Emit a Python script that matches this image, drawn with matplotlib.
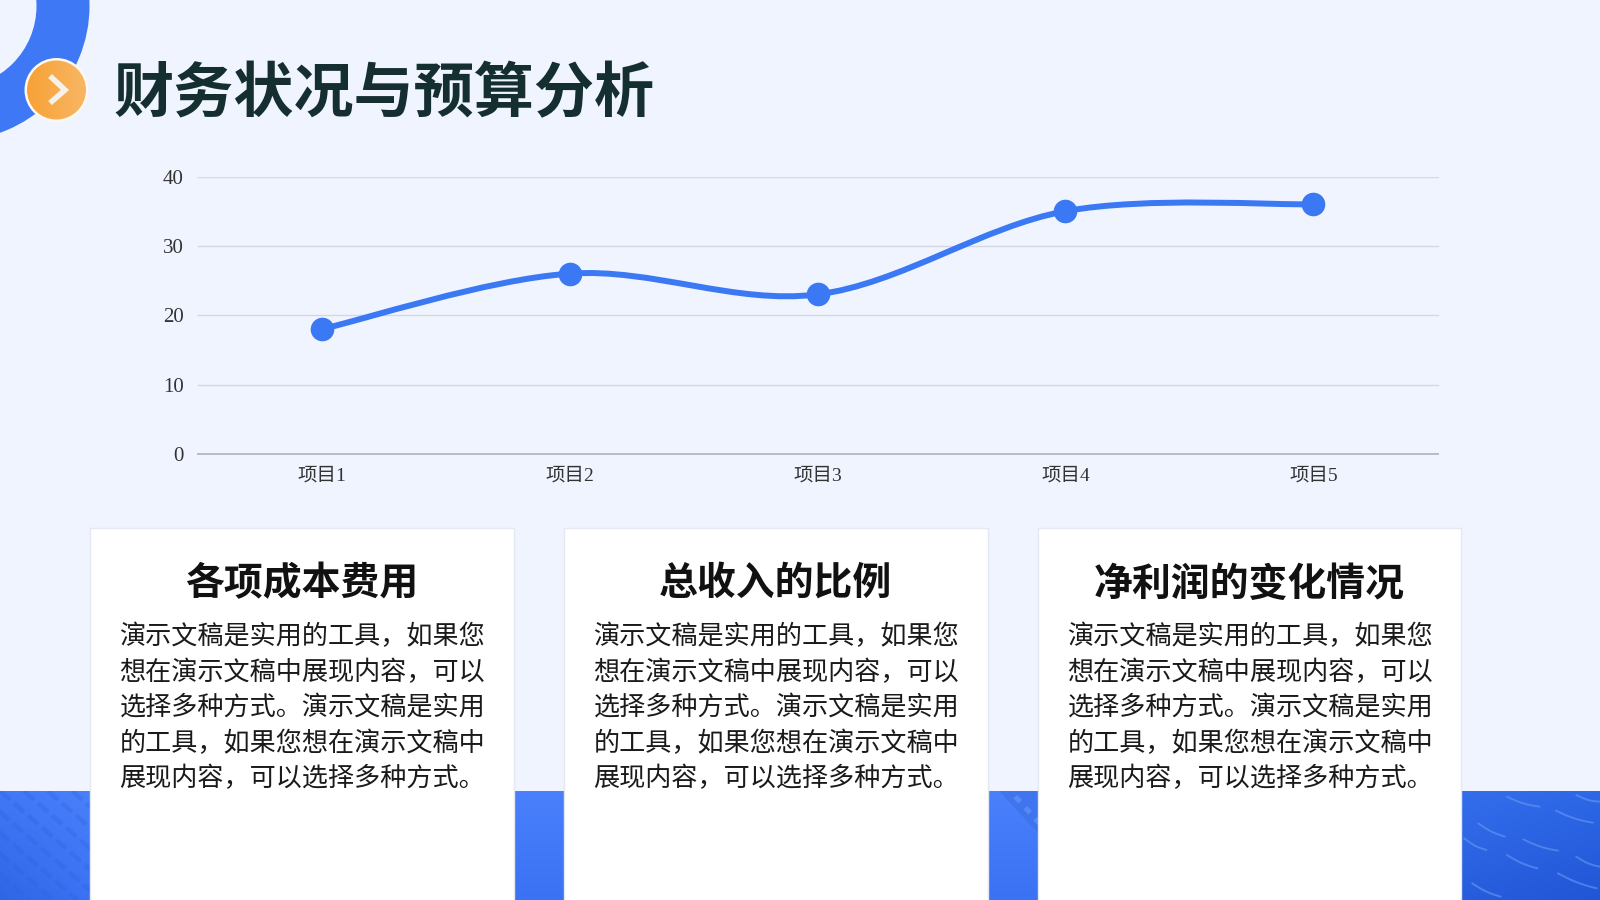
import numpy as np
import matplotlib
matplotlib.use('Agg')
import matplotlib.pyplot as plt
from matplotlib.patches import Circle, Rectangle, Wedge, PathPatch, Polygon
from matplotlib.path import Path
from matplotlib.colors import to_rgb

categories = ['项目1', '项目2', '项目3', '项目4', '项目5']
values = [18, 26, 23, 35, 36]
y_ticks = [0, 10, 20, 30, 40]
title = '财务状况与预算分析'
card_titles = ['各项成本费用', '总收入的比例', '净利润的变化情况']
body_lines = ['演示文稿是实用的工具，如果您',
              '想在演示文稿中展现内容，可以',
              '选择多种方式。演示文稿是实用',
              '的工具，如果您想在演示文稿中',
              '展现内容，可以选择多种方式。']

CJK = ['Noto Sans CJK SC', 'DejaVu Sans']
SERIF = ['Liberation Serif', 'Noto Sans CJK SC']
BG = '#eff4ff'
BLUE = '#3b78f3'

fig = plt.figure(figsize=(16, 9), dpi=100, facecolor=BG)
pg = fig.add_axes([0, 0, 1, 1])
pg.set_xlim(0, 1600); pg.set_ylim(900, 0); pg.axis('off')


def gradient(x0, x1, y0, y1, tl, tr, bl, br, z=1):
    tl, tr, bl, br = map(lambda c: np.array(to_rgb(c)), (tl, tr, bl, br))
    u = np.linspace(0, 1, 200)[None, :, None]
    v = np.linspace(0, 1, 100)[:, None, None]
    img = (1 - v) * ((1 - u) * tl + u * tr) + v * ((1 - u) * bl + u * br)
    pg.imshow(img, extent=(x0, x1, y1, y0), aspect='auto', zorder=z)


# bottom band
gradient(0, 90, 791, 900, '#4078f6', '#4a80fb', '#2f66e6', '#3a72f4')
gradient(90, 1039, 791, 900, '#4a80fb', '#4a80fb', '#3a72f4', '#3a72f4')
gradient(1039, 1600, 791, 900, '#4a80fb', '#2d68e6', '#3a72f4', '#2156d6')
for off in range(-120, 130, 24):
    ln, = pg.plot([off, off + 125], [791, 900], color='#2f62dc', alpha=0.3, lw=3.2,
                  ls=(0, (3, 1.2)), zorder=2)
    ln.set_clip_path(Rectangle((0, 791), 90, 109, transform=pg.transData))
pg.add_patch(Polygon([(999, 791), (1039, 791), (1039, 834)], closed=True,
                     facecolor='#3a6fe8', alpha=0.6, edgecolor='none', zorder=2))
for k in range(3):
    pg.add_patch(Rectangle((1017 + 10 * k, 795 + 11 * k), 7, 5, angle=45, facecolor='#6b97f5',
                           alpha=0.6, edgecolor='none', zorder=2))
for (xa, ya, xb, yb) in [(1340, 170, 1420, 200), (1460, 212, 1550, 248), (1270, 250, 1335, 290),
                         (1380, 298, 1465, 332), (1235, 295, 1290, 330), (1340, 345, 1415, 385),
                         (1510, 350, 1568, 380), (1465, 400, 1560, 445), (1255, 430, 1325, 470),
                         (1510, 165, 1568, 185)]:
    t = np.linspace(0, 1, 12)
    px = 960 + (xa + (xb - xa) * t) / 2.45
    py = 740 + (ya + (yb - ya) * t + 5 * np.sin(np.pi * t)) / 3
    pg.plot(px, py, color='#6a97f4', alpha=0.6, lw=1.4, solid_capstyle='round', zorder=2)

# top-left ring
pg.add_patch(Wedge((-45, 6), 134.5, 0, 360, width=53, facecolor='#3f78f5', edgecolor='none', zorder=3))
pg.add_patch(Circle((56.5, 90), 32, facecolor='#fdf8f0', edgecolor='none', zorder=4))
grad_img = pg.imshow(np.linspace(0, 1, 100)[None, :, None] * np.array(to_rgb('#f8b765'))
                     + (1 - np.linspace(0, 1, 100)[None, :, None]) * np.array(to_rgb('#f8a136')),
                     extent=(27, 87, 120, 60), aspect='auto', zorder=5)
grad_img.set_clip_path(Circle((56.5, 90), 29.5, transform=pg.transData))
pg.plot([50, 65, 50], [76, 90, 103], color='#f6f1ea', lw=4.0, solid_joinstyle='miter',
        solid_capstyle='butt', zorder=6)
pg.set_xlim(0, 1600); pg.set_ylim(900, 0)

pg.text(113, 94, title, family=CJK, weight='black', fontsize=43.3, color='#152e30',
        ha='left', va='center', zorder=6)

# cards
for x0, x1, ttl in zip([90, 564, 1038], [513.5, 987.5, 1461], card_titles):
    pg.add_patch(Rectangle((x0, 527.5), x1 - x0, 380, facecolor='white', edgecolor='#e4e8f0',
                           lw=1, zorder=7))
    pg.text((x0 + x1) / 2, 584, ttl, family=CJK, weight='bold', fontsize=28, color='#111111',
            ha='center', va='center', zorder=8)
    for i, line in enumerate(body_lines):
        pg.text(x0 + 29.5, 637 + i * 35.5, line, family=CJK, fontsize=18.8, color='#1a1a1a',
                ha='left', va='center', zorder=8)

# chart
ax = fig.add_axes([197 / 1600, 1 - 454 / 900, (1439 - 197) / 1600, (454 - 176.5) / 900])
ax.patch.set_alpha(0)
ax.set_xlim(-0.503, 4.507); ax.set_ylim(0, 40)
for s in ['top', 'right', 'left']:
    ax.spines[s].set_visible(False)
ax.spines['bottom'].set_color('#a9adb8'); ax.spines['bottom'].set_linewidth(1.1)
ax.spines['bottom'].set_capstyle('butt')
ax.set_yticks(y_ticks); ax.set_xticks(range(len(categories)), categories)
ax.grid(axis='y', color='#d3d8e4', lw=1.0); ax.set_axisbelow(True)
for g in ax.get_ygridlines():
    g.set_solid_capstyle('butt')
ax.tick_params(length=0)
ax.tick_params(axis='y', pad=9.5, labelsize=15, labelcolor='#333333')
ax.tick_params(axis='x', pad=9.5, labelsize=14, labelcolor='#333333')
for t in ax.get_xticklabels() + ax.get_yticklabels():
    t.set_family(SERIF)

x = np.arange(len(values), dtype=float)
y = np.array(values, dtype=float)
verts = [(x[0], y[0])]
codes = [Path.MOVETO]
for i in range(len(x) - 1):
    p0 = i - 1 if i > 0 else 0
    p3 = i + 2 if i + 2 < len(x) else i + 1
    verts += [(x[i] + (x[i + 1] - x[p0]) / 6, y[i] + (y[i + 1] - y[p0]) / 6),
              (x[i + 1] - (x[p3] - x[i]) / 6, y[i + 1] - (y[p3] - y[i]) / 6),
              (x[i + 1], y[i + 1])]
    codes += [Path.CURVE4] * 3
ax.add_patch(PathPatch(Path(verts, codes), facecolor='none', edgecolor=BLUE, lw=4.3, zorder=3))
ax.plot(x, y, ls='none', marker='o', ms=17, color=BLUE, mec='none', zorder=4)

fig.savefig('out.png', dpi=100, facecolor=BG)
